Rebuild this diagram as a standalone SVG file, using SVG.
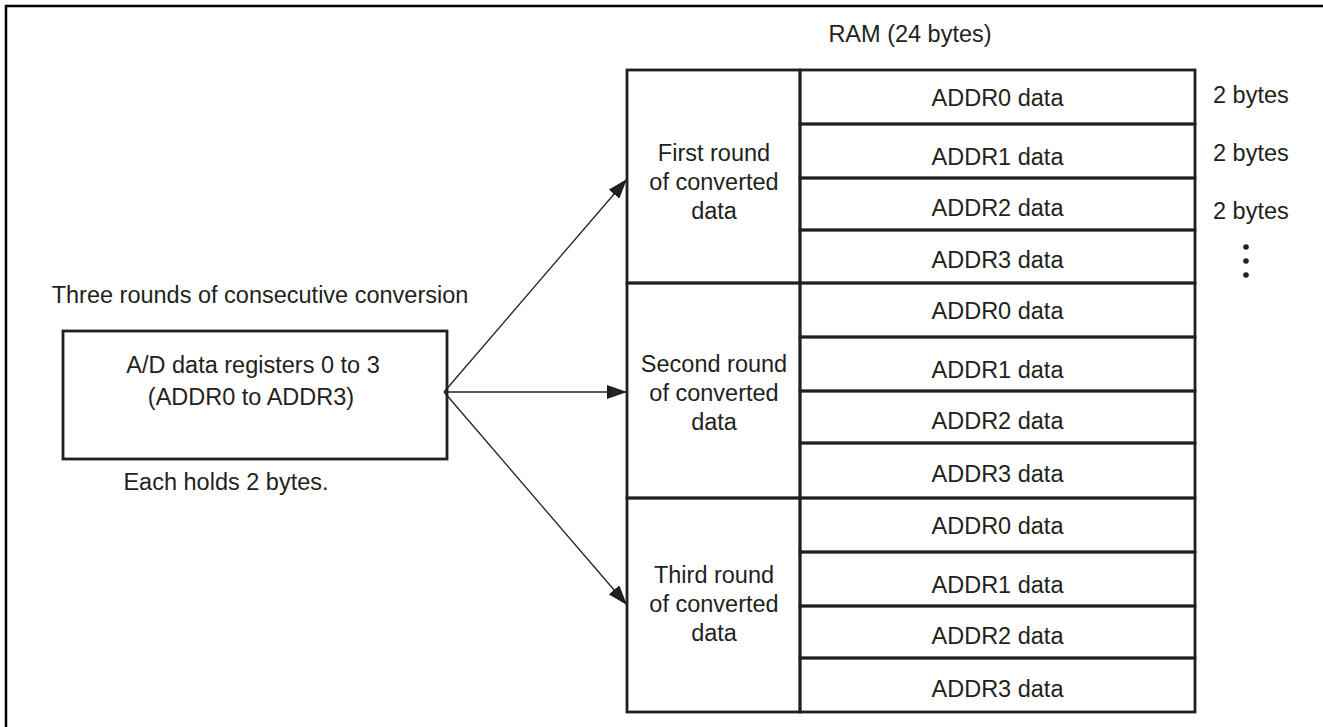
<svg xmlns="http://www.w3.org/2000/svg" width="1323" height="727" viewBox="0 0 1323 727">
<defs>
<style>
.t{font-family:"Liberation Sans",Arial,sans-serif;font-size:23.5px;fill:#231f20;text-anchor:middle}
.tl{font-family:"Liberation Sans",Arial,sans-serif;font-size:23.5px;fill:#231f20;text-anchor:start}
.ln{stroke:#231f20;stroke-width:2.8;fill:none}
.ar{stroke:#231f20;stroke-width:1.3;fill:none}
</style>
<marker id="ah" markerWidth="20" markerHeight="14" refX="20" refY="7" orient="auto" markerUnits="userSpaceOnUse">
<path d="M0,0 L20,7 L0,14 Z" fill="#231f20"/>
</marker>
</defs>
<rect width="1323" height="727" fill="#fff"/>
<path d="M6,727 V6 H1323" stroke="#000" stroke-width="2.5" fill="none"/>

<text class="t" x="910" y="42">RAM (24 bytes)</text>
<text class="t" x="260" y="303">Three rounds of consecutive conversion</text>

<g id="adreg">
<rect class="ln" x="63" y="331" width="384" height="128"/>
<text class="t" x="253" y="373">A/D data registers 0 to 3</text>
<text class="t" x="251" y="405">(ADDR0 to ADDR3)</text>
</g>
<text class="t" x="226" y="490">Each holds 2 bytes.</text>

<g id="connectors">
<line class="ar" x1="444" y1="392" x2="627" y2="179" marker-end="url(#ah)"/>
<line class="ar" x1="444" y1="392" x2="627" y2="392" marker-end="url(#ah)"/>
<line class="ar" x1="444" y1="392" x2="627" y2="605" marker-end="url(#ah)"/>
</g>

<g id="round1">
<rect class="ln" x="627" y="70" width="173" height="213"/>
<text class="t" x="714" y="161">First round</text>
<text class="t" x="714" y="190">of converted</text>
<text class="t" x="714" y="219">data</text>
<rect class="ln" x="800" y="70" width="395" height="54"/>
<rect class="ln" x="800" y="124" width="395" height="54"/>
<rect class="ln" x="800" y="178" width="395" height="52"/>
<rect class="ln" x="800" y="230" width="395" height="53"/>
<text class="t" x="997.5" y="106">ADDR0 data</text>
<text class="t" x="997.5" y="165">ADDR1 data</text>
<text class="t" x="997.5" y="216">ADDR2 data</text>
<text class="t" x="997.5" y="268">ADDR3 data</text>
</g>

<g id="round2">
<rect class="ln" x="627" y="283" width="173" height="215"/>
<text class="t" x="714" y="372">Second round</text>
<text class="t" x="714" y="401">of converted</text>
<text class="t" x="714" y="430">data</text>
<rect class="ln" x="800" y="283" width="395" height="54"/>
<rect class="ln" x="800" y="337" width="395" height="54"/>
<rect class="ln" x="800" y="391" width="395" height="52"/>
<rect class="ln" x="800" y="443" width="395" height="55"/>
<text class="t" x="997.5" y="319">ADDR0 data</text>
<text class="t" x="997.5" y="378">ADDR1 data</text>
<text class="t" x="997.5" y="429">ADDR2 data</text>
<text class="t" x="997.5" y="482">ADDR3 data</text>
</g>

<g id="round3">
<rect class="ln" x="627" y="498" width="173" height="214"/>
<text class="t" x="714" y="583">Third round</text>
<text class="t" x="714" y="612">of converted</text>
<text class="t" x="714" y="641">data</text>
<rect class="ln" x="800" y="498" width="395" height="54"/>
<rect class="ln" x="800" y="552" width="395" height="54"/>
<rect class="ln" x="800" y="606" width="395" height="52"/>
<rect class="ln" x="800" y="658" width="395" height="54"/>
<text class="t" x="997.5" y="534">ADDR0 data</text>
<text class="t" x="997.5" y="593">ADDR1 data</text>
<text class="t" x="997.5" y="644">ADDR2 data</text>
<text class="t" x="997.5" y="697">ADDR3 data</text>
</g>

<g id="sizes">
<text class="tl" x="1213" y="103">2 bytes</text>
<text class="tl" x="1213" y="161">2 bytes</text>
<text class="tl" x="1213" y="219">2 bytes</text>
<circle cx="1246" cy="247" r="2.8" fill="#231f20"/>
<circle cx="1246" cy="261" r="2.8" fill="#231f20"/>
<circle cx="1246" cy="275" r="2.8" fill="#231f20"/>
</g>
</svg>
